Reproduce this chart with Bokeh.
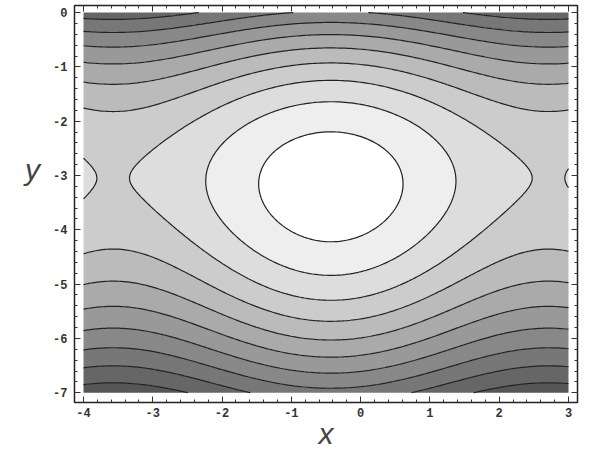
import numpy as np
from bokeh.plotting import figure
from bokeh.models import SingleIntervalTicker, LinearAxis, CustomJSTickFormatter
from bokeh.embed import file_html
from bokeh.resources import INLINE

# ---- data ----
x_ticks = [-4, -3, -2, -1, 0, 1, 2, 3]
y_ticks = [-7, -6, -5, -4, -3, -2, -1, 0]
x_domain = [-4.0, 3.0]
y_domain = [-7.0, 0.0]
# field parameters: H = g(y) - K(y) cos(x - x0)
x0 = -0.43          # centre of the closed orbits
y_c = -3.12         # minimum of the y-part
a_quad = 0.47
c_cubic = 0.022
K_amp = 1.05
K_y = -4.3
K_w = 6.0
contour_levels = [-0.51, 0.235, 0.98, 1.725, 2.47, 3.215, 3.96, 4.705, 5.45, 6.195]
band_grays = [255, 238, 221, 204, 187, 170, 153, 136, 119, 102, 86]

xs = np.linspace(x_domain[0], x_domain[1], 181)
ys = np.linspace(y_domain[0], y_domain[1], 181)
X, Y = np.meshgrid(xs, ys)
d = Y - y_c
g = a_quad * d**2 + c_cubic * d**3
K = K_amp * np.exp(-((Y - K_y) / K_w) ** 2)
Z = g - K * np.cos(X - x0)

levels = [float(Z.min()) - 0.01] + contour_levels + [float(Z.max()) + 0.01]
fills = ["#%02x%02x%02x" % (v, v, v) for v in band_grays]

p = figure(width=592, height=454, x_range=(-4.13, 3.13), y_range=(-7.18, 0.13),
           output_backend="svg", toolbar_location=None,
           min_border_left=74, min_border_right=15, min_border_top=5, min_border_bottom=52,
           x_axis_location=None, y_axis_location=None)
p.xgrid.visible = False
p.ygrid.visible = False
p.background_fill_color = "white"
p.border_fill_color = "white"
p.outline_line_color = "#222222"
p.outline_line_width = 1.5

p.contour(x=xs, y=ys, z=Z, levels=levels, fill_color=fills,
          line_color="#222222", line_width=1.2)

def make_axis(labels):
    t = SingleIntervalTicker(interval=1, num_minor_ticks=5)
    ax = LinearAxis(ticker=t)
    ax.axis_line_color = None
    ax.major_tick_in = 6
    ax.major_tick_out = 0
    ax.minor_tick_in = 3
    ax.minor_tick_out = 0
    ax.major_tick_line_color = "#333333"
    ax.minor_tick_line_color = "#333333"
    ax.major_label_text_font = "Liberation Mono"
    ax.major_label_text_font_style = "bold"
    ax.major_label_text_font_size = "12px"
    ax.major_label_text_color = "#333333"
    ax.major_label_standoff = 7
    if labels:
        ax.formatter = CustomJSTickFormatter(code="return tick.toFixed(0);")
    else:
        ax.formatter = CustomJSTickFormatter(code="return '';")
        ax.major_label_standoff = 0
    ax.axis_label_text_font = "Liberation Sans"
    ax.axis_label_text_font_style = "italic"
    ax.axis_label_text_font_size = "30px"
    ax.axis_label_text_color = "#444444"
    return ax

xax = make_axis(True)
xax.axis_label = "x"
xax.major_label_standoff = 5
xax.axis_label_standoff = -3
yax = make_axis(True)
yax.axis_label = "y\n\u00a0\n\u00a0"
yax.axis_label_orientation = "horizontal"
yax.axis_label_standoff = 10
yax.axis_label_text_line_height = 1.05

p.add_layout(xax, "below")
p.add_layout(yax, "left")
p.add_layout(make_axis(False), "above")
p.add_layout(make_axis(False), "right")

open("out.html", "w").write(file_html(p, INLINE))
